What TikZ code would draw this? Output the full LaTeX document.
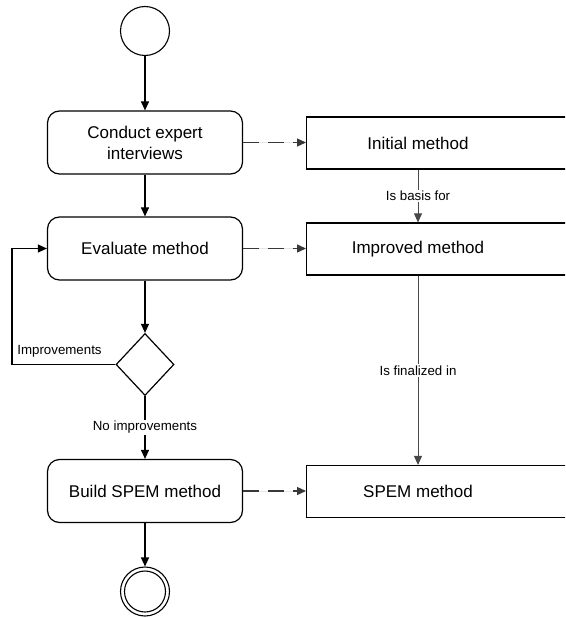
\documentclass[tikz,border=0pt]{standalone}
\usepackage{fontspec}
\setmainfont{Liberation Sans}
\usetikzlibrary{arrows.meta,shapes.geometric}
\definecolor{linkgray}{HTML}{484848}
\definecolor{dashgray}{HTML}{383838}
\begin{document}
\begin{tikzpicture}[x=1pt,y=-1pt,
  act/.style={draw, line width=1.2pt, rounded corners=12pt, minimum width=195pt,
    minimum height=63pt, align=center, inner sep=0pt, font=\fontsize{17}{21}\selectfont},
  obj/.style={draw, line width=1.2pt, minimum width=320pt, minimum height=52pt,
    anchor=west, inner sep=0pt},
  objtext/.style={inner sep=0pt, font=\fontsize{17}{21}\selectfont},
  lbl/.style={inner sep=1.5pt, font=\fontsize{13.3}{16}\selectfont},
  tip/.style={-{Triangle[length=9pt,width=8pt]}},
  flow/.style={tip, line width=1.1pt},
  dep/.style={tip, line width=1.3pt, draw=dashgray, fill=dashgray, dash pattern=on 16pt off 9pt},
  link/.style={tip, line width=0.9pt, draw=linkgray},
  state/.style={draw, circle, line width=1.1pt, minimum size=49pt, inner sep=0pt}]
\useasboundingbox (0,0) rectangle (565,618);
\clip (0,0) rectangle (565,618);

% activity flow
\node[state] (start) at (145,31) {};
\node[act] (conduct) at (145,142.5) {Conduct expert\\interviews};
\node[act] (eval) at (145,248.5) {Evaluate method};
\node[draw, diamond, line width=1.2pt, minimum width=58pt, minimum height=62pt,
  inner sep=0pt] (dec) at (145,364.5) {};
\node[act] (build) at (145,491) {Build SPEM method};
\node[state] (final) at (145,591.5) {};
\draw[line width=1.1pt] (final.center) circle (20.5pt);

% work products
\node[obj] (init) at (306,143) {};
\node[objtext] (initT) at (418,143) {Initial method};
\node[obj] (impr) at (306,249) {};
\node[objtext] (imprT) at (418,249) {Improved method};
\node[obj] (spem) at (306,491.5) {};
\node[objtext] (spemT) at (418,491.5) {SPEM method};

% control flow
\draw[flow] (start) -- (conduct);
\draw[flow] (conduct) -- (eval);
\draw[flow] (eval) -- (dec.north);
\draw[flow] (dec.south) -- node[lbl, fill=white] {No improvements} (build);
\coordinate (loop) at (12,364.5);
\draw[flow] (dec.west) -- (loop) |- (eval.west);
\node[lbl, anchor=base] (impLbl) at (59.5,354.5) {Improvements};
\draw[flow] (build) -- (final);

% outputs
\draw[dep] (conduct.east) -- (conduct.east -| init.west);
\draw[dep] (eval.east) -- (eval.east -| impr.west);
\draw[dep] (build.east) -- (build.east -| spem.west);
\draw[link] (init.south -| initT) -- node[lbl, fill=white] {Is basis for} (impr.north -| initT);
\draw[link] (impr.south -| imprT) -- node[lbl, fill=white] {Is finalized in} (spem.north -| imprT);
\end{tikzpicture}
\end{document}
